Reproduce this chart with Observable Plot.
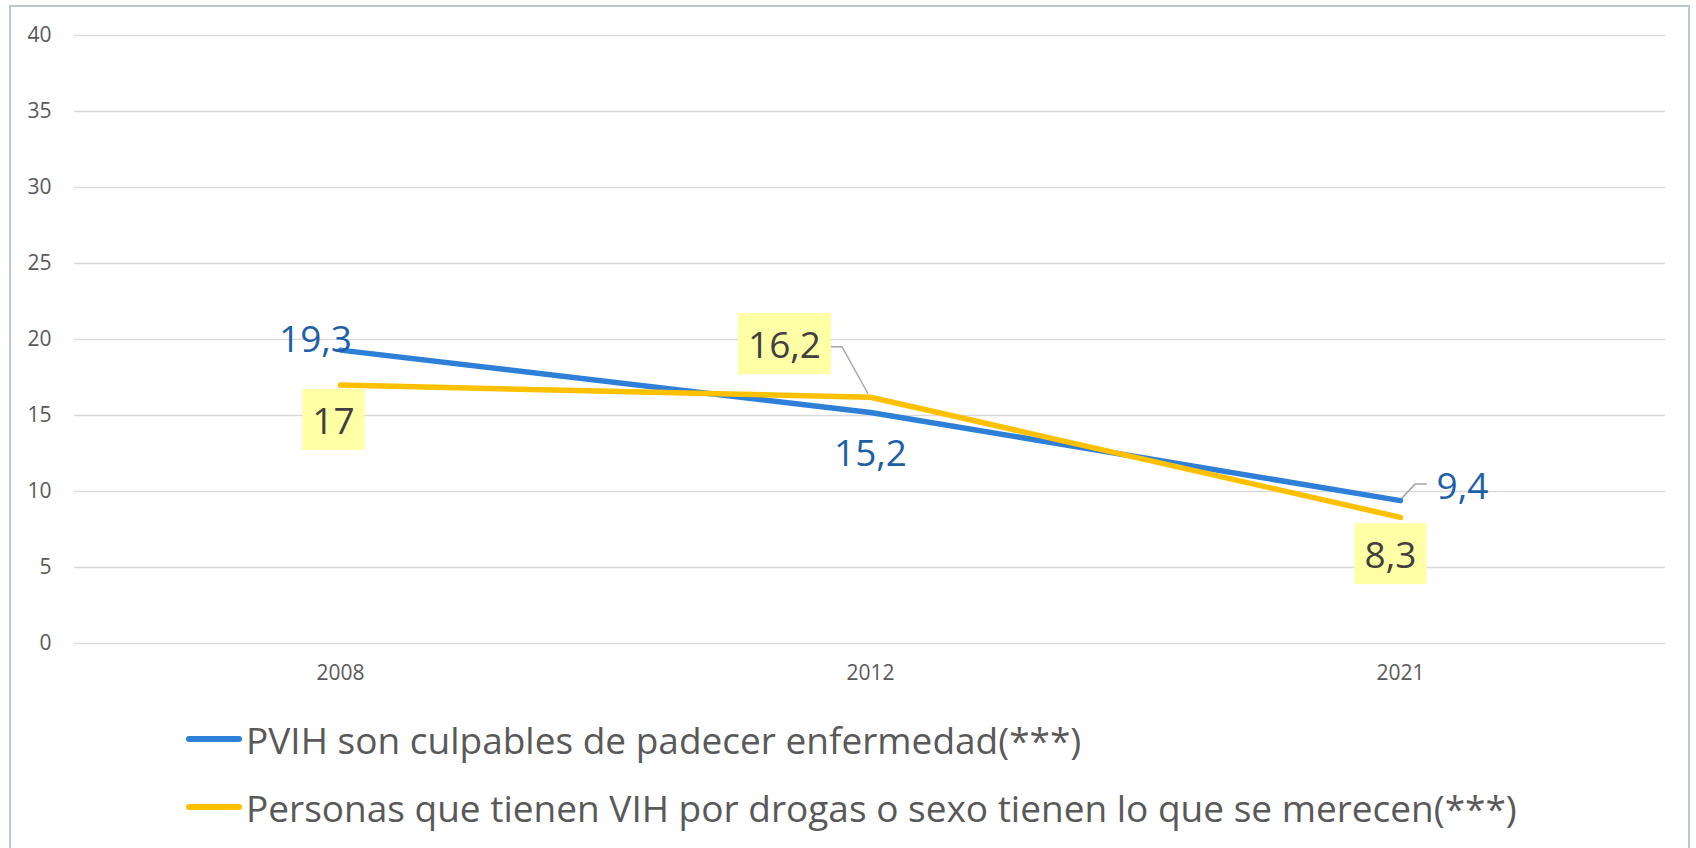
<!DOCTYPE html>
<html><head><meta charset="utf-8">
<script src="https://cdn.jsdelivr.net/npm/d3@7"></script>
<script src="https://cdn.jsdelivr.net/npm/@observablehq/plot@0.6"></script>
<style>
body{margin:0;background:#fff;width:1696px;height:848px;overflow:hidden;position:relative;font-family:"Open Sans",sans-serif;}
#frame{position:absolute;left:9px;top:5px;width:1681px;height:900px;border:2px solid #BCC6D6;box-sizing:border-box;}
#chart{position:absolute;left:0;top:0;}
.legend-item{position:absolute;left:186px;display:flex;align-items:center;height:60px;color:#595959;font-size:37px;white-space:nowrap;}
.sw{width:56px;height:6px;border-radius:3px;margin-right:4px;flex:none;}
</style></head><body>
<div id="frame"></div><div id="chart"></div><div id="legend"></div>
<script>
const years = ["2008", "2012", "2021"];
const seriesNames = ["PVIH son culpables de padecer enfermedad(***)", "Personas que tienen VIH por drogas o sexo tienen lo que se merecen(***)"];
const pvih = [19.3, 15.2, 9.4];
const personas = [17, 16.2, 8.3];
const yTicks = [0, 5, 10, 15, 20, 25, 30, 35, 40];
const lineColors = ["#2E7FD8", "#FFC000"];

// label layout (pixel offsets from data point), not data
const labelOffsets = [
  [[-25, -10], [0, 42], [62, -13]],
  [[-7, 37], [-86, -51], [-10, 39]]
];

const rows = [];
years.forEach((yr, i) => {
  rows.push({series: seriesNames[0], year: yr, value: pvih[i], s: 0, i});
  rows.push({series: seriesNames[1], year: yr, value: personas[i], s: 1, i});
});
const fmt = v => String(v).replace(".", ",");

function leader(year, value, pts) {
  return (index, scales) => {
    const x0 = scales.x(year), y0 = scales.y(value);
    const p = document.createElementNS("http://www.w3.org/2000/svg", "path");
    p.setAttribute("d", "M" + pts.map(([dx, dy]) => `${x0 + dx},${y0 + dy}`).join("L"));
    p.setAttribute("fill", "none");
    p.setAttribute("stroke", "#A6A6A6");
    p.setAttribute("stroke-width", "1.5");
    return p;
  };
}

const marks = [
  Plot.gridY(yTicks, {stroke: "#D9D9D9", strokeOpacity: 1, strokeWidth: 1.5}),
  Plot.axisY(yTicks, {tickSize: 0, tickPadding: 23, fontSize: 21, label: null}),
  Plot.axisX({tickSize: 0, tickPadding: 22, fontSize: 21, label: null}),
  leader(years[1], personas[1], [[-40, -50], [-28, -50], [-2, -3]]),
  leader(years[2], pvih[2], [[1, -1], [15, -16], [27, -16]]),
];
[0, 1].forEach(s => {
  marks.push(Plot.line(rows.filter(d => d.s === s), {
    x: "year", y: "value", stroke: lineColors[s], strokeWidth: 5.5,
    strokeLinecap: "round", strokeLinejoin: "round"
  }));
});
rows.forEach(d => {
  const [dx, dy] = labelOffsets[d.s][d.i];
  marks.push(Plot.text([d], {
    x: "year", y: "value", text: e => fmt(e.value), dx, dy,
    fontSize: 37, fill: d.s === 0 ? "#1F5FA8" : "#404040",
    className: d.s === 1 ? "boxed-label" : "plain-label"
  }));
});

const chart = Plot.plot({
  width: 1696, height: 700,
  marginLeft: 74, marginRight: 31, marginTop: 35, marginBottom: 57,
  style: {fontFamily: "Open Sans", color: "#595959", background: "transparent", overflow: "visible"},
  x: {type: "point", domain: years, padding: 0.5, label: null},
  y: {domain: [0, 40], label: null},
  marks
});
document.getElementById("chart").appendChild(chart);

// yellow boxes behind boxed labels
chart.querySelectorAll("g.boxed-label text").forEach(t => {
  const b = t.getBBox();
  const r = document.createElementNS("http://www.w3.org/2000/svg", "rect");
  const cy = b.y + b.height / 2;
  r.setAttribute("x", b.x - 10);
  r.setAttribute("width", b.width + 20);
  r.setAttribute("y", cy - 30.5);
  r.setAttribute("height", 61);
  r.setAttribute("fill", "#FFFFA6");
  if (t.getAttribute("transform")) r.setAttribute("transform", t.getAttribute("transform"));
  t.parentNode.insertBefore(r, t);
});

const legend = document.getElementById("legend");
seriesNames.forEach((name, s) => {
  const div = document.createElement("div");
  div.className = "legend-item";
  div.style.top = (s === 0 ? 739 - 30 : 807 - 30) + "px";
  div.innerHTML = `<span class="sw" style="background:${lineColors[s]}"></span><span>${name}</span>`;
  legend.appendChild(div);
});
</script>
</body></html>
